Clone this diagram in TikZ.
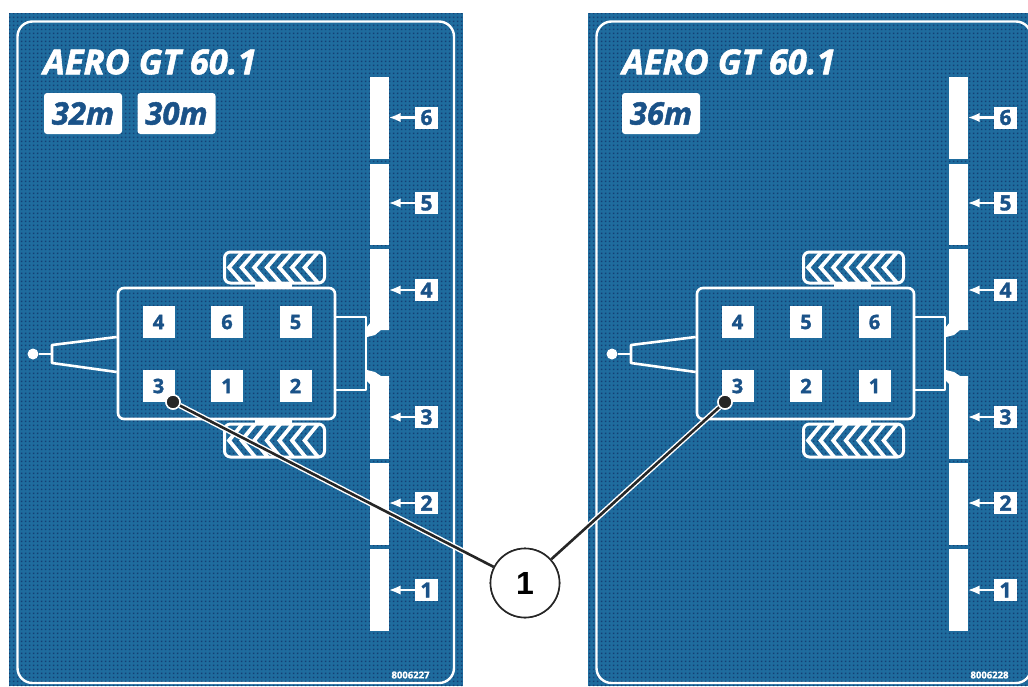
\documentclass[tikz,border=0pt]{standalone}
\usepackage{fontspec}
\setmainfont{Open Sans}[BoldFeatures={FakeBold=1.6},BoldItalicFeatures={FakeBold=1.6}]
\newfontfamily\calloutfont{Liberation Sans}
\usetikzlibrary{arrows.meta,patterns}
\definecolor{platebase}{HTML}{1F6C9E}
\definecolor{platedot}{HTML}{143F74}
\definecolor{platetext}{HTML}{1A5288}
\pgfdeclarepatternformonly{halftone}{\pgfqpoint{0pt}{0pt}}{\pgfqpoint{4pt}{4pt}}{\pgfqpoint{4pt}{4pt}}{
  \pgfpathrectangle{\pgfqpoint{1pt}{1pt}}{\pgfqpoint{2pt}{2pt}}
  \pgfusepath{fill}
}
\tikzset{
  platebg/.style={fill=platebase,draw=none},
  platedots/.style={pattern=halftone,pattern color=platedot,draw=none},
  frame/.style={draw=white,line width=2.4pt,rounded corners=15pt},
  wline/.style={draw=white,line width=2.6pt,line join=round},
  barseg/.style={fill=white,draw=none,inner sep=0pt,minimum width=18.5pt,minimum height=#1},
  numbox/.style={fill=white,text=platetext,inner sep=0pt,minimum width=32pt,minimum height=32pt,font=\fontsize{20}{20}\selectfont\bfseries},
  sidebox/.style={fill=white,text=platetext,inner sep=0pt,minimum width=23pt,minimum height=22pt,font=\fontsize{21}{21}\selectfont\bfseries},
  sizebox/.style={fill=white,text=platetext,rounded corners=3pt,inner sep=0pt,minimum width=78pt,minimum height=41pt,font=\fontsize{31}{31}\selectfont\bfseries\itshape},
  bodybox/.style={draw=white,line width=2.6pt,rounded corners=6pt,minimum width=217pt,minimum height=131pt,inner sep=0pt},
  tyrebox/.style={draw=white,line width=3pt,rounded corners=6pt,minimum width=100pt,inner sep=0pt},
  sidearrow/.style={draw=white,line width=2.8pt,-{Latex[length=12pt,width=9.5pt]},shorten >=-0.5pt},
  ball/.style={circle,fill=white,inner sep=0pt,minimum size=11pt},
  pin/.style={circle,fill=black!85,draw=white,line width=1.5pt,inner sep=0pt,minimum size=14pt},
  halo/.style={draw=white,line width=5.5pt},
  leader/.style={draw=black!85,line width=2.6pt},
  balloon/.style={circle,draw=black!85,fill=white,line width=1.6pt,inner sep=0pt,minimum size=69pt,font=\calloutfont\fontsize{32}{32}\selectfont\bfseries},
}
% #1 prefix, #2 shift, #3 bg right, #4 frame right, #5 part no.
\newcommand{\plate}[5]{
\begin{scope}[xshift=#2pt]
  \fill[platebg] (9,13) rectangle (#3,686);
  \fill[platedots] (9,13) rectangle (#3,686);
  \draw[frame] (17.5,21.5) rectangle (#4,683);
  \node[anchor=west,text=white,inner sep=0pt,font=\fontsize{34.5}{35}\selectfont\bfseries\itshape] (#1title) at (43,62) {AERO GT 60.1};
  \node[text=white,inner sep=0pt,font=\fontsize{9.5}{10}\selectfont\bfseries] (#1part) at (410.5,675) {#5};
  % boom sections
  \node[barseg=82pt] (#1b6) at (379.7,118) {};
  \node[barseg=81pt] (#1b5) at (379.7,204.5) {};
  \node[barseg=81pt] (#1b4) at (379.7,289.5) {};
  \node[barseg=83pt] (#1b3) at (379.7,417) {};
  \node[barseg=82pt] (#1b2) at (379.7,504) {};
  \node[barseg=82pt] (#1b1) at (379.7,590) {};
  \fill[white] (371,322) -- (367,327) -- (367,337) -- (375,335) -- (381,330) -- (389,330) -- (389,322) -- cycle;
  \fill[white] (371,385) -- (367,381) -- (367,370) -- (375,372) -- (381,376) -- (389,376) -- (389,385) -- cycle;
  % side labels
  \foreach \n/\y in {6/117.5,5/203,4/290,3/417,2/503,1/590}{
    \node[sidebox] (#1s\n) at (426.5,\y) {\n};
    \draw[sidearrow] (#1s\n.west) -- (#1b\n.east |- #1s\n.west);
  }
  % tyres
  \foreach \t/\ya/\yb/\sa/\sb in {top/252/283/283/288,bot/424/457/419/424}{
    \begin{scope}
      \clip[rounded corners=6pt] (224,\ya) rectangle (325,\yb);
      \foreach \k in {0,...,6}{
        \draw[white,line width=3.8pt,line join=miter] ({242.5+\k*12.6},\ya) -- ({229+\k*12.6},{(\ya+\yb)/2}) -- ({242.5+\k*12.6},\yb);
      }
    \end{scope}
    \node[tyrebox,minimum height={\yb-\ya}] (#1t\t) at (274.5,{(\ya+\yb)/2}) {};
    \fill[white] (255,\sa) rectangle (292,\sb);
  }
  % body
  \node[bodybox] (#1body) at (226.5,353.5) {};
  \draw[wline] (#1body.east |- 0,317) -- (366,317) -- (366,390) -- (#1body.east |- 0,390);
  \node[ball] (#1ball) at (33,354) {};
  \coordinate (#1hitch) at (52,354);
  \draw[wline] (#1body.west |- 0,337) -- (52,345) -- (52,363) -- (#1body.west |- 0,372);
  \draw[wline] (#1ball) -- (#1hitch);
\end{scope}
}
\begin{document}
\begin{tikzpicture}[x=1pt,y=-1pt]
  \useasboundingbox (0,0) rectangle (1028,686);
  \clip (0,0) rectangle (1028,686);
  \fill[white] (0,0) rectangle (1028,686);
  \plate{L}{0}{463}{454}{8006227}
  \plate{R}{579}{449}{452}{8006228}
  \node[sizebox] (Lm32) at (83,113.5) {32m};
  \node[sizebox] (Lm30) at (176.5,113.5) {30m};
  \node[sizebox] (Rm36) at (661,113.5) {36m};
  \foreach \n/\x/\y in {4/158.5/322,6/227/322,5/295.5/322,3/158.5/386,1/227/386,2/295.5/386}{
    \node[numbox] (Lc\n) at (\x,\y) {\n};
  }
  \foreach \n/\x/\y in {4/737.5/322,5/806/322,6/874.5/322,3/737.5/386,2/806/386,1/874.5/386}{
    \node[numbox] (Rc\n) at (\x,\y) {\n};
  }
  % call-outs
  \node[pin] (Lpin) at (173,402) {};
  \node[pin] (Rpin) at (725,402) {};
  \node[balloon] (call) at (525,583) {1};
  \draw[halo] (Lpin) -- (call);
  \draw[halo] (Rpin) -- (call);
  \draw[leader] (Lpin) -- (call);
  \draw[leader] (Rpin) -- (call);
  \node[pin] at (Lpin) {};
  \node[pin] at (Rpin) {};
  \node[balloon] at (call) {1};
\end{tikzpicture}
\end{document}
